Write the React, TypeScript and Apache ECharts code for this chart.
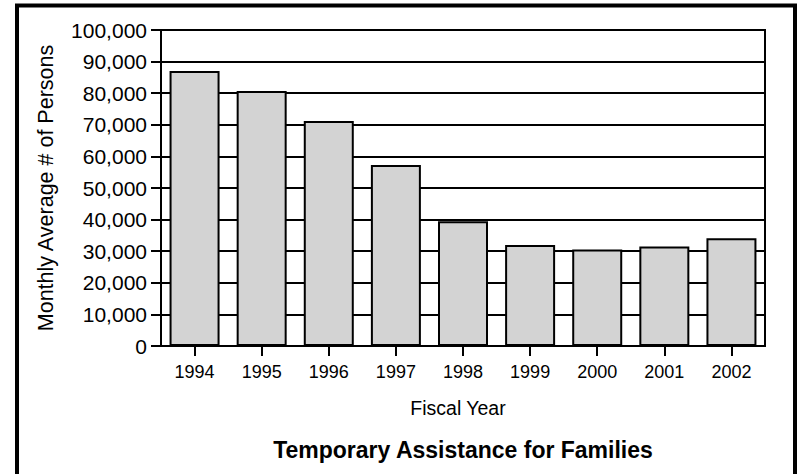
import React, { useEffect, useRef } from "react";
import * as echarts from "echarts";

const years = ["1994", "1995", "1996", "1997", "1998", "1999", "2000", "2001", "2002"];
const persons = [87000, 80700, 71200, 57300, 39500, 32000, 30500, 31500, 34100];
const yTicks = { min: 0, max: 100000, interval: 10000 };
const yAxisTitle = "Monthly Average # of Persons";
const xAxisTitle = "Fiscal Year";
const chartTitle = "Temporary Assistance for Families";

const FONT = "'Liberation Sans', Arial, sans-serif";

export default function App() {
  const ref = useRef<HTMLDivElement>(null);
  useEffect(() => {
    if (!ref.current) return;
    const chart = echarts.init(ref.current, undefined, { renderer: "svg" });
    chart.setOption({
      animation: false,
      backgroundColor: "#ffffff",
      textStyle: { fontFamily: FONT, color: "#000" },
      grid: {
        left: 161,
        right: 37,
        top: 30,
        bottom: 128,
        show: true,
        borderColor: "#000",
        borderWidth: 2,
        backgroundColor: "transparent",
      },
      xAxis: {
        type: "category",
        data: years,
        name: xAxisTitle,
        nameLocation: "middle",
        nameGap: 52,
        nameTextStyle: { fontFamily: FONT, fontSize: 19.5, color: "#000", padding: [0, 10, 0, 0] },
        axisLine: { show: true, lineStyle: { color: "#000", width: 2 } },
        axisTick: { show: true, alignWithLabel: true, length: 10, lineStyle: { color: "#000", width: 2 } },
        axisLabel: { fontFamily: FONT, fontSize: 18, color: "#000", margin: 17 },
        splitLine: { show: false },
      },
      yAxis: {
        type: "value",
        min: yTicks.min,
        max: yTicks.max,
        interval: yTicks.interval,
        name: yAxisTitle,
        nameLocation: "middle",
        nameGap: 104,
        nameTextStyle: { fontFamily: FONT, fontSize: 21.5, color: "#000" },
        axisLine: { show: true, lineStyle: { color: "#000", width: 2 } },
        axisTick: { show: true, length: 10, lineStyle: { color: "#000", width: 2 } },
        axisLabel: {
          fontFamily: FONT,
          fontSize: 21,
          color: "#000",
          margin: 14,
          formatter: (v: number) => v.toLocaleString("en-US"),
        },
        splitLine: { show: true, lineStyle: { color: "#000", width: 2 } },
      },
      series: [
        {
          type: "bar",
          data: persons,
          barWidth: 50,
          itemStyle: { color: "#d3d3d3", borderColor: "#000", borderWidth: 2 },
        },
      ],
      graphic: [
        {
          type: "rect",
          shape: { x: 17, y: 5.5, width: 778, height: 520 },
          style: { fill: "none", stroke: "#000", lineWidth: 4 },
          silent: true,
          z: 100,
        },
        {
          type: "text",
          x: 463,
          y: 450,
          style: {
            text: chartTitle,
            fontFamily: FONT,
            fontSize: 23,
            fontWeight: "bold",
            fill: "#000",
            align: "center",
            verticalAlign: "middle",
          },
        },
      ],
    });
    return () => chart.dispose();
  }, []);
  return (
    <div
      ref={ref}
      style={{ position: "fixed", left: 0, top: 0, width: 802, height: 474, background: "#fff" }}
    />
  );
}
